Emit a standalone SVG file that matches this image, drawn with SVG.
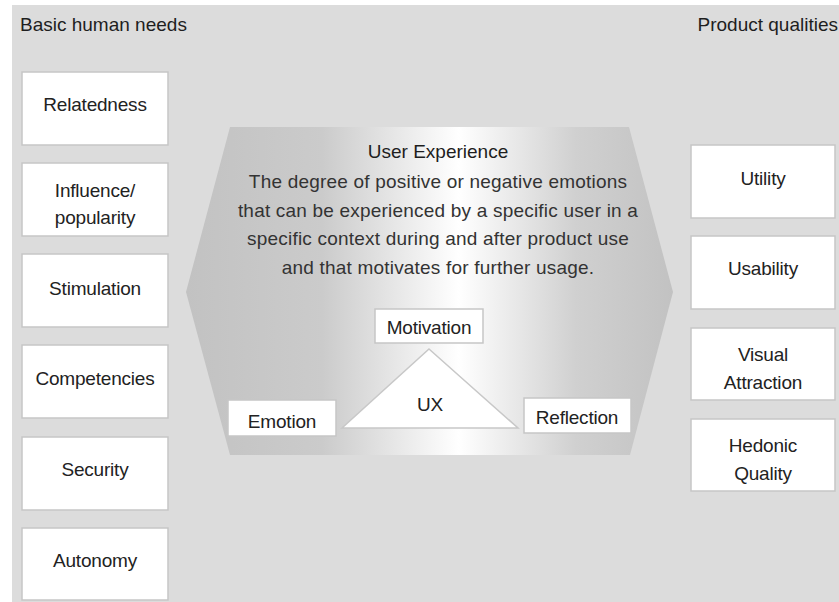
<svg xmlns="http://www.w3.org/2000/svg" width="839" height="602" viewBox="0 0 839 602">
  <defs>
    <linearGradient id="hexFill" x1="186" y1="0" x2="673" y2="0" gradientUnits="userSpaceOnUse">
      <stop offset="0" stop-color="#c2c2c2"/>
      <stop offset="0.28" stop-color="#cbcbcb"/>
      <stop offset="0.56" stop-color="#ffffff"/>
      <stop offset="0.8" stop-color="#d0d0d0"/>
      <stop offset="1" stop-color="#c2c2c2"/>
    </linearGradient>
    <style>
      .box { fill: #ffffff; stroke: #c6c6c6; stroke-width: 1.5; }
      .lbl { font-family: "Liberation Sans", Arial, sans-serif; font-size: 19px; letter-spacing: -0.2px; fill: #222222; text-anchor: middle; }
      .head { font-family: "Liberation Sans", Arial, sans-serif; font-size: 19px; letter-spacing: 0px; fill: #1e1e1e; }
      .title { font-family: "Liberation Sans", Arial, sans-serif; font-size: 19px; fill: #1e1e1e; text-anchor: middle; }
      .body { font-family: "Liberation Sans", Arial, sans-serif; font-size: 19px; letter-spacing: 0.2px; fill: #333333; text-anchor: middle; }
    </style>
  </defs>

  <!-- canvas -->
  <rect x="0" y="0" width="839" height="602" fill="#ffffff"/>
  <rect x="12" y="5" width="827" height="597" fill="#dcdcdc"/>

  <!-- column headings -->
  <text class="head" x="20" y="31">Basic human needs</text>
  <text class="head" x="838" y="31" text-anchor="end">Product qualities</text>

  <!-- basic human needs -->
  <g id="relatedness">
    <rect class="box" x="22" y="72" width="146" height="73"/>
    <text class="lbl" x="95" y="111">Relatedness</text>
  </g>
  <g id="influence">
    <rect class="box" x="22" y="163" width="146" height="73"/>
    <text class="lbl" x="95" y="197">Influence/</text>
    <text class="lbl" x="95" y="224">popularity</text>
  </g>
  <g id="stimulation">
    <rect class="box" x="22" y="254" width="146" height="73"/>
    <text class="lbl" x="95" y="295">Stimulation</text>
  </g>
  <g id="competencies">
    <rect class="box" x="22" y="345" width="146" height="73"/>
    <text class="lbl" x="95" y="385">Competencies</text>
  </g>
  <g id="security">
    <rect class="box" x="22" y="437" width="146" height="73"/>
    <text class="lbl" x="95" y="476">Security</text>
  </g>
  <g id="autonomy">
    <rect class="box" x="22" y="528" width="146" height="72"/>
    <text class="lbl" x="95" y="567">Autonomy</text>
  </g>

  <!-- user experience core -->
  <g id="user-experience">
    <polygon points="230,127 629,127 673,292 630,455 230,455 186,292" fill="url(#hexFill)"/>
    <text class="title" x="438" y="158">User Experience</text>
    <text class="body" x="438" y="188">The degree of positive or negative emotions</text>
    <text class="body" x="438" y="217">that can be experienced by a specific user in a</text>
    <text class="body" x="438" y="245">specific context during and after product use</text>
    <text class="body" x="438" y="274">and that motivates for further usage.</text>
  </g>

  <g id="ux">
    <polygon points="429,349 518,428 342,428" fill="#ffffff" stroke="#c8c8c8" stroke-width="1.5"/>
    <text class="lbl" x="430" y="411">UX</text>
  </g>
  <g id="motivation">
    <rect class="box" x="375" y="309" width="108" height="34"/>
    <text class="lbl" x="429" y="334">Motivation</text>
  </g>
  <g id="emotion">
    <rect class="box" x="228" y="400" width="108" height="36"/>
    <text class="lbl" x="282" y="428">Emotion</text>
  </g>
  <g id="reflection">
    <rect class="box" x="524" y="398" width="107" height="35"/>
    <text class="lbl" x="577" y="424">Reflection</text>
  </g>

  <!-- product qualities -->
  <g id="utility">
    <rect class="box" x="691" y="145" width="144" height="73"/>
    <text class="lbl" x="763" y="185">Utility</text>
  </g>
  <g id="usability">
    <rect class="box" x="691" y="236" width="144" height="73"/>
    <text class="lbl" x="763" y="275">Usability</text>
  </g>
  <g id="visual-attraction">
    <rect class="box" x="691" y="328" width="144" height="72"/>
    <text class="lbl" x="763" y="361">Visual</text>
    <text class="lbl" x="763" y="389">Attraction</text>
  </g>
  <g id="hedonic-quality">
    <rect class="box" x="691" y="419" width="144" height="72"/>
    <text class="lbl" x="763" y="452">Hedonic</text>
    <text class="lbl" x="763" y="480">Quality</text>
  </g>
</svg>
